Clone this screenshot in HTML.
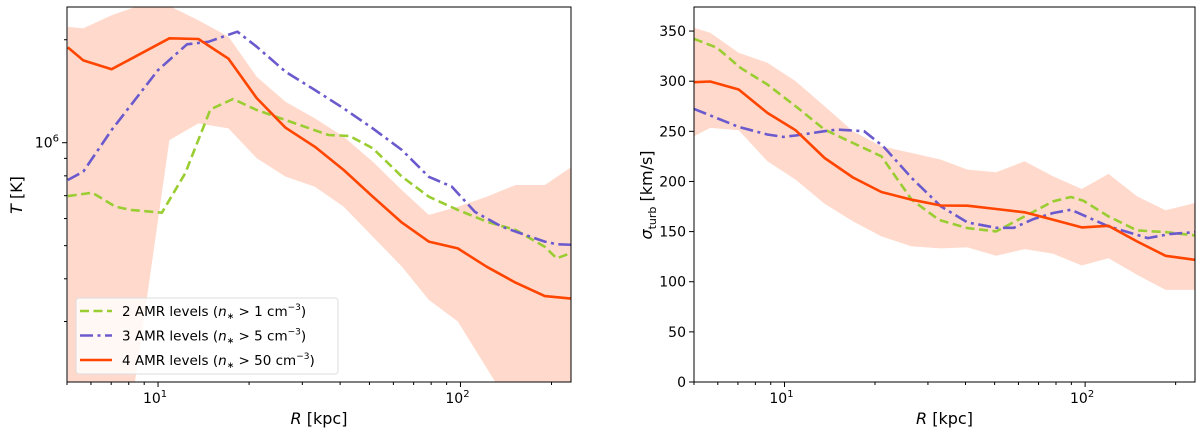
<!DOCTYPE html>
<html><head><meta charset="utf-8"><style>
html,body{margin:0;padding:0;background:#fff;width:1200px;height:434px;overflow:hidden;}
svg{display:block;font-family:"DejaVu Sans","Liberation Sans",sans-serif;}
</style></head><body>
<svg id="fig" width="1200" height="434" xmlns="http://www.w3.org/2000/svg"></svg>
<script>
// ---- Left panel data (T in units of 1e6 K) ----
const redR_L=[5.03,5.66,7.02,10.9,13.6,17.1,21.2,26.4,33.0,41.1,51.3,64,78.6,98,122,152,190,238];
const redT_L=[1.90,1.74,1.64,2.02,2.01,1.76,1.35,1.106,0.973,0.832,0.695,0.584,0.514,0.491,0.434,0.390,0.356,0.350];
const greenR_L=[5.03,6.06,7.23,8.14,10.3,12.3,14.9,17.7,21.2,26.4,36.6,43,51.3,64,78.6,98,122,152,190,208,238];
const greenT_L=[0.698,0.714,0.650,0.636,0.624,0.814,1.251,1.342,1.246,1.165,1.053,1.046,0.963,0.796,0.695,0.636,0.588,0.556,0.496,0.459,0.477];
const blueR_L=[5.03,5.66,7.02,10,12.47,14.66,18.3,21.2,26.4,33,41.1,51.3,64,78.6,93.6,111.5,137,164,190,208,238];
const blueT_L=[0.778,0.823,1.089,1.630,1.939,1.973,2.111,1.908,1.613,1.426,1.260,1.101,0.952,0.795,0.744,0.628,0.568,0.537,0.514,0.505,0.503];
const bandUpR_L=[5.03,5.66,7.02,8.6,10.9,13.6,17.1,21.2,26.4,33.0,41.1,51.3,64,78.6,98,122,152,190,238];
const bandUpT_L=[2.18,2.16,2.36,2.7,2.7,2.28,2.04,1.56,1.318,1.178,1.041,0.880,0.727,0.615,0.650,0.695,0.752,0.752,0.851];
const bandLoR_L=[5.03,7.02,8.38,10.9,13.6,17.1,21.2,26.4,33.0,41.1,51.3,64,78.6,98,131,238];
const bandLoT_L=[0.05,0.08,0.19,1.018,1.139,1.101,0.900,0.796,0.743,0.650,0.531,0.434,0.347,0.300,0.19,0.1];
// ---- Right panel data (sigma_turb km/s) ----
const redR_R=[5.0,5.66,7.04,8.77,10.9,13.6,16.9,21.0,26.5,33.1,40.6,50.6,62.9,78.3,97.5,119.6,148.8,185.2,232];
const redS_R=[299,299.7,291.7,268.4,251,223.4,204,189.5,181.8,176,175.8,172.5,169.2,161.8,154.2,155.8,140.2,125.9,121.9];
const greenR_R=[5.0,5.97,7.14,8.77,10.9,13.6,16.9,21.0,26.5,32.6,40.6,50.6,62.9,78.3,89.7,98.6,119.6,148.8,185.2,232];
const greenS_R=[342.3,333.3,313.4,296.7,275,251.7,238.4,225.1,181.8,161.8,153.5,150.2,165.2,180.2,184.5,180.8,165.2,151.2,149.5,146.2];
const blueR_R=[5.0,7.04,8.77,9.92,10.9,13.6,14.9,18.4,21.3,26.5,33.1,40.6,50.6,57.9,67.3,78.3,89.7,119.6,161.6,191,232];
const blueS_R=[272.4,254.4,246.8,244.4,245.8,250.1,251.7,250.1,235.1,203.5,175.2,159.2,153.8,153.8,162.5,168.5,171.8,155.2,143.5,147.5,149.5];
const bandR_R=[5.0,5.66,7.04,8.77,10.9,13.6,16.9,21.0,26.5,33.1,40.6,50.6,62.9,78.3,97.5,119.6,148.8,185.2,232];
const bandUpS_R=[353.3,348.3,328.3,318.3,300,275,250.1,235.1,228.4,221.8,211.8,209.1,220.1,205.1,192.5,207.5,185.2,171.2,178.5];
const bandLoS_R=[245.1,253.4,251.1,220.1,201.8,177.8,160.2,145.2,135.2,133.2,134.2,125.9,132.5,127.9,116.2,123.5,106.9,91.9,91.9];
const sigTicks=[0,50,100,150,200,250,300,350];

const NS="http://www.w3.org/2000/svg";
const svg=document.getElementById('fig');
function mk(tag,attrs,parent){const e=document.createElementNS(NS,tag);for(const k in attrs)e.setAttribute(k,attrs[k]);(parent||svg).appendChild(e);return e;}
const RED="#ff4500",GREEN="#9acd32",BLUE="#6a5acd";
const XMIN=Math.log10(5.0),XMAX=Math.log10(232);

function panel(L,R,T,B,yfun,id){
  const g=mk('g',{});
  
  
  const cp=mk('clipPath',{id:'clip-'+id},g);
  mk('rect',{x:L,y:T,width:R-L,height:B-T},cp);
  const xs=v=>L+(Math.log10(v)-XMIN)/(XMAX-XMIN)*(R-L);
  const plot=mk('g',{'clip-path':'url(#clip-'+id+')'},g);
  return {g,plot,xs,ys:yfun,L,R,T,B};
}
function px(p,x){return Math.min(p.R+1,Math.max(p.L-1,p.xs(x)));}
function py(p,y){return Math.min(p.B+1,Math.max(p.T-1,p.ys(y)));}
function pathOf(p,xa,ya){return xa.map((x,i)=>(i?'L':'M')+px(p,x).toFixed(1)+','+py(p,ya[i]).toFixed(1)).join('');}
function band(p,xu,yu,xl,yl,name){
  let d=pathOf(p,xu,yu);
  for(let i=xl.length-1;i>=0;i--)d+='L'+px(p,xl[i]).toFixed(1)+','+py(p,yl[i]).toFixed(1);
  const e=mk('path',{d:d+'Z',fill:RED,'fill-opacity':0.2,stroke:'none'},p.plot);
  
  
}
function line(p,xa,ya,color,dash,name){
  const e=mk('path',{d:pathOf(p,xa,ya),fill:'none',stroke:color,'stroke-width':2.6,'stroke-dasharray':dash,'stroke-linejoin':'round'},p.plot);
  
  
}
function xaxis(p,name){
  for(let dec=0;dec<=2;dec++)for(let m=1;m<10;m++){
    const v=m*Math.pow(10,dec); if(v<5||v>232)continue;
    const x=p.xs(v);
    mk('line',{x1:x,x2:x,y1:p.B,y2:p.B+(m==1?5:3),stroke:'#000','stroke-width':1},p.g);
    if(m==1){
      const t=mk('text',{x:x-3,y:p.B+21,'font-size':14,'text-anchor':'middle'},p.g);
      
      
      t.innerHTML='10<tspan dy="-6" font-size="10">'+dec+'</tspan>';
    }
  }
  const t=mk('text',{x:(p.L+p.R)/2,y:p.B+42,'font-size':16,'text-anchor':'middle'},p.g);
  
  
  t.innerHTML='<tspan font-style="italic">R</tspan> [kpc]';
}
function frame(p){mk('rect',{x:p.L,y:p.T,width:p.R-p.L,height:p.B-p.T,fill:'none',stroke:'#000','stroke-width':1},p.g);}

// Left panel
const yL=v=>{return 142.7-(Math.log10(v))*342;};
const P1=panel(67,571,7,382,yL,'temperature');
band(P1,bandUpR_L,bandUpT_L,bandLoR_L,bandLoT_L,'temperature-scatter-band');
line(P1,greenR_L,greenT_L,GREEN,'9,4.5','temperature-line-2-amr');
line(P1,blueR_L,blueT_L,BLUE,'13,4.5,3,4.5','temperature-line-3-amr');
line(P1,redR_L,redT_L,RED,'','temperature-line-4-amr');
xaxis(P1,'temperature-x-axis');
[0.3,0.4,0.5,0.6,0.7,0.8,0.9,2].forEach(v=>{const y=yL(v);mk('line',{x1:P1.L-3,x2:P1.L,y1:y,y2:y,stroke:'#000'},P1.g);});
mk('line',{x1:P1.L-5,x2:P1.L,y1:yL(1),y2:yL(1),stroke:'#000'},P1.g);
{const t=mk('text',{x:P1.L-8,y:yL(1)+5,'font-size':14,'text-anchor':'end'},P1.g);

t.innerHTML='10<tspan dy="-6" font-size="10">6</tspan>';}
{const t=mk('text',{x:0,y:0,'font-size':16,'text-anchor':'middle',transform:'translate(22,195) rotate(-90)'},P1.g);

t.innerHTML='<tspan font-style="italic">T</tspan> [K]';}
frame(P1);
// legend
{const lg=mk('g',{});

mk('rect',{x:76,y:298,width:262,height:76,rx:3,fill:'#fff','fill-opacity':0.8,stroke:'#ddd'},lg);
const ent=[[GREEN,'9,4.5','2 AMR levels (','1'],[BLUE,'13,4.5,3,4.5','3 AMR levels (','5'],[RED,'','4 AMR levels (','50']];
ent.forEach((e,i)=>{const y=311+i*24.5;
 const g=mk('g',{},lg);
 mk('line',{x1:80,x2:112,y1:y,y2:y,stroke:e[0],'stroke-width':2.6,'stroke-dasharray':e[1]},g);
 const t=mk('text',{x:122,y:y+5,'font-size':13.5},g);
 t.innerHTML=e[2]+'<tspan font-style="italic">n</tspan><tspan font-size="9" dy="3">∗</tspan><tspan dy="-3"> &gt; '+e[3]+' cm</tspan><tspan font-size="9" dy="-6">−3</tspan><tspan dy="6">)</tspan>';
});}

// Right panel
const yR=v=>382-v*(375/374);
const P2=panel(694,1195,7,382,yR,'sigma');
band(P2,bandR_R,bandUpS_R,bandR_R,bandLoS_R,'sigma-scatter-band');
line(P2,greenR_R,greenS_R,GREEN,'9,4.5','sigma-line-2-amr');
line(P2,blueR_R,blueS_R,BLUE,'13,4.5,3,4.5','sigma-line-3-amr');
line(P2,redR_R,redS_R,RED,'','sigma-line-4-amr');
xaxis(P2,'sigma-x-axis');
sigTicks.forEach(v=>{const y=yR(v);mk('line',{x1:P2.L-5,x2:P2.L,y1:y,y2:y,stroke:'#000'},P2.g);
 const t=mk('text',{x:P2.L-8,y:y+5,'font-size':14,'text-anchor':'end'},P2.g);
 
 t.textContent=v;});
{const t=mk('text',{x:0,y:0,'font-size':16,'text-anchor':'middle',transform:'translate(652,195) rotate(-90)'},P2.g);

t.innerHTML='<tspan font-style="italic">σ</tspan><tspan font-size="11" dy="4">turb</tspan><tspan dy="-4"> [km/s]</tspan>';}
frame(P2);
</script>
</body></html>
